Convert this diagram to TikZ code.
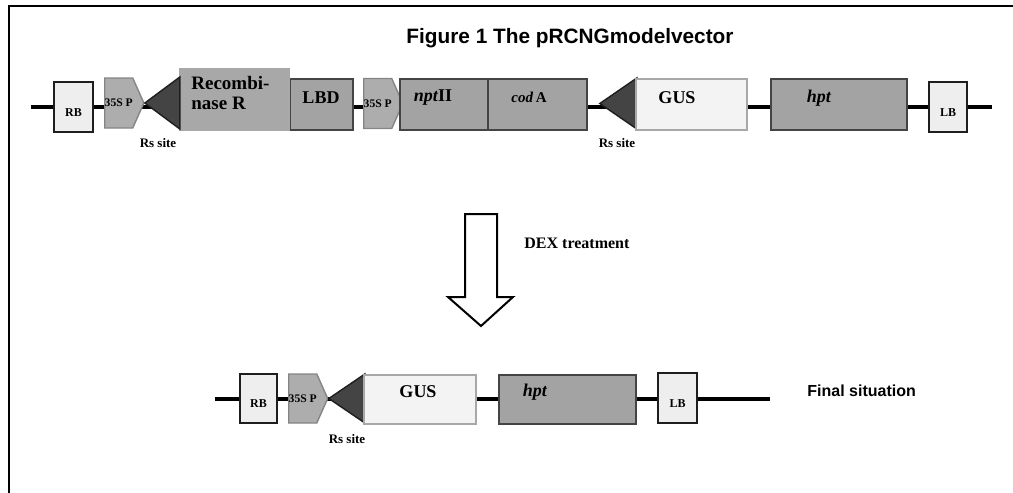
\documentclass[tikz,border=0pt]{standalone}
\usepackage{fontspec}
\setmainfont{Liberation Serif}
\newfontfamily\headfont{Liberation Sans}
\usetikzlibrary{positioning,shapes.geometric,shapes.symbols}
\definecolor{ink}{HTML}{1E1E1E}
\definecolor{pale}{HTML}{EEEEEE}
\definecolor{ghost}{HTML}{F3F3F3}
\definecolor{ghostline}{HTML}{A8A8A8}
\definecolor{prom}{HTML}{ADADAD}
\definecolor{promline}{HTML}{858585}
\definecolor{gene}{HTML}{A3A3A3}
\definecolor{geneline}{HTML}{444444}
\definecolor{recomb}{HTML}{A8A8A8}
\definecolor{site}{HTML}{444444}
\tikzset{
  frame/.style={draw=black, line width=1pt},
  backbone/.style={draw=black, line width=1.6pt},
  border/.style={rectangle, draw=ink, fill=pale, line width=0.9pt, inner sep=0pt,
                 text height=9pt, text depth=0pt, font=\bfseries\fontsize{6}{7}\selectfont},
  promoter/.style={signal, signal to=east, signal pointer angle=132, draw=promline, fill=prom,
                   line width=0.7pt, inner sep=0pt, minimum height=25pt,
                   font=\bfseries\fontsize{5.8}{7}\selectfont},
  rssite/.style={isosceles triangle, isosceles triangle stretches, shape border rotate=180,
                 draw=ink, fill=site, line width=0.7pt, inner sep=0pt},
  genebox/.style={rectangle, draw=geneline, fill=gene, line width=0.9pt, inner sep=0pt,
                  anchor=north west},
  gusbox/.style={genebox, draw=ghostline, fill=ghost},
  genelbl/.style={font=\bfseries\fontsize{9}{10}\selectfont, inner sep=0pt},
  sitelbl/.style={font=\bfseries\fontsize{6.5}{8}\selectfont, inner sep=0pt},
  note/.style={font=\bfseries\fontsize{8}{10}\selectfont, inner sep=0pt, anchor=west},
  title/.style={font=\headfont\bfseries\fontsize{10.4}{12}\selectfont, inner sep=0pt},
  hollow/.style={draw=black, fill=white, line width=1pt, line join=miter}
}
\begin{document}
\begin{tikzpicture}[x=0.5pt,y=-0.5pt]
  \useasboundingbox (0,0) rectangle (1013,493);
  \draw[frame] (9,493) -- (9,6) -- (1013,6);
  \node[title] (ttl) at (570,38) {Figure 1 The pRCNGmodelvector};

  % pRCNG vector
  \coordinate (top start) at (31,107);
  \coordinate (top end) at (992,107);
  \draw[backbone] (top start) -- (top end);
  \node[border, minimum width=19.5pt, minimum height=25pt] (rb1) at (73.5,107) {RB};
  \node[promoter, minimum width=19.5pt, anchor=west] (p1) at (104,103) {35S P};
  \node[genebox, minimum width=31.5pt, minimum height=25.5pt] (lbd) at (289,78) {};
  \node[genebox, draw=none, fill=recomb, minimum width=55.5pt, minimum height=31.5pt] (rec) at (178,67) {};
  \node[rssite, minimum height=17.5pt, minimum width=26pt, anchor=apex] (rs1) at (143,103) {};
  \node[genelbl, anchor=west, align=left, font=\bfseries\fontsize{9.5}{10}\selectfont] (reclbl) at (191,93) {Recombi-\\nase R};
  \node[genelbl] at (321,98) {LBD};
  \node[promoter, minimum width=18.5pt, anchor=west] (p2) at (363,103.5) {35S P};
  \node[genebox, minimum width=44pt, minimum height=25.5pt] (npt) at (399,78) {};
  \node[genebox, minimum width=49.5pt, minimum height=25.5pt] (cod) at (487,78) {};
  \node[genelbl] at (433,98) {\textit{npt}II};
  \node[genelbl, font=\bfseries\fontsize{7.5}{9}\selectfont] at (529,97) {\textit{cod}\,A};
  \node[rssite, minimum height=18.5pt, minimum width=25.5pt, anchor=apex] (rs2) at (598,103.5) {};
  \node[gusbox, minimum width=55.5pt, minimum height=25.5pt] (gus1) at (635,78) {};
  \node[genelbl] at (677,98) {GUS};
  \node[genebox, minimum width=68pt, minimum height=25.5pt] (hpt1) at (770,78) {};
  \node[genelbl] at (819,98) {\textit{hpt}};
  \node[border, minimum width=19pt, minimum height=25pt] (lb1) at (948,107) {LB};
  \node[sitelbl] at (158,143) {Rs site};
  \node[sitelbl] at (617,143) {Rs site};

  % DEX induced excision
  \draw[hollow] (465,214) -- (497,214) -- (497,297) -- (513,297) -- (481,326)
    -- (448,297) -- (465,297) -- cycle;
  \node[note] (dex) at (524,243) {DEX treatment};

  % final situation
  \coordinate (bot start) at (215,399);
  \coordinate (bot end) at (770,399);
  \draw[backbone] (bot start) -- (bot end);
  \node[border, minimum width=18.5pt, minimum height=24.5pt] (rb2) at (258.5,398.5) {RB};
  \node[promoter, minimum width=19.5pt, minimum height=24.5pt, anchor=west] (p3) at (288,398.5) {35S P};
  \node[rssite, minimum height=18pt, minimum width=24.5pt, anchor=apex] (rs3) at (327,398.5) {};
  \node[gusbox, minimum width=56pt, minimum height=24.5pt] (gus2) at (363,374) {};
  \node[genelbl] at (418,392) {GUS};
  \node[genebox, minimum width=68.5pt, minimum height=24.5pt] (hpt2) at (498,374) {};
  \node[genelbl] at (535,392) {\textit{hpt}};
  \node[border, minimum width=19.5pt, minimum height=25pt] (lb2) at (677.5,398) {LB};
  \node[sitelbl] at (347,439) {Rs site};
  \node[note, font=\headfont\bfseries\fontsize{8}{10}\selectfont] (fin) at (807,391) {Final situation};
\end{tikzpicture}
\end{document}
